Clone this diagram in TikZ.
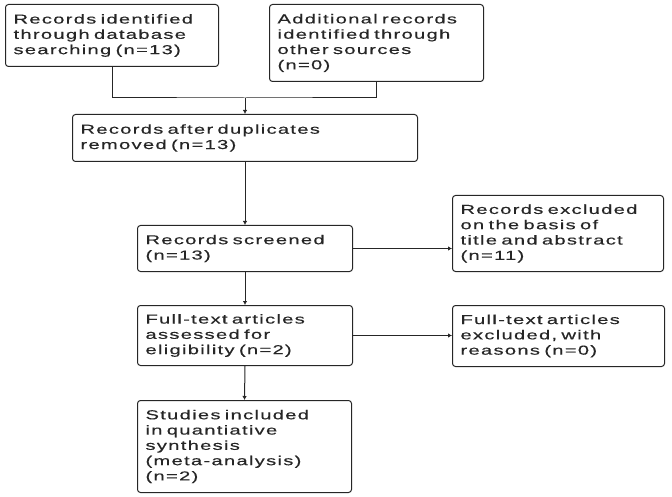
\documentclass[tikz,border=0pt]{standalone}
\usepackage{fontspec}
\usepackage{tikz}
\usetikzlibrary{arrows.meta}
\newfontfamily\flowfont[FakeStretch=1.55,LetterSpace=10,WordSpace=1.5,FakeBold=0.4]{Liberation Sans}

\tikzset{
	box/.style={draw=black!85, line width=1pt, rounded corners=3pt, anchor=north west,
		align=left, inner xsep=8pt, inner ysep=0pt, text=black!85,
		font=\flowfont\fontsize{13}{15.3}\selectfont},
	arr/.style={draw=black!85, line width=1pt, -{Latex[length=4pt,width=4.5pt]}}
}

\begin{document}
\begin{tikzpicture}[x=1pt,y=-1pt]

	\useasboundingbox (0,0) rectangle (672,497);

	\node[box, minimum width=213, minimum height=62, text width=197] (ident) at (5,4)
		{Records identified\\through database\\searching (n=13)};
	\node[box, minimum width=214, minimum height=77, text width=198] (other) at (269,4)
		{Additional records\\identified through\\other sources\\(n=0)};
	\node[box, minimum width=345, minimum height=47, text width=329] (dedup) at (72,114)
		{Records after duplicates\\removed (n=13)};
	\node[box, minimum width=215, minimum height=46, text width=199] (screen) at (137,225)
		{Records screened\\(n=13)};
	\node[box, minimum width=211, minimum height=76, text width=195] (exclA) at (452,195)
		{Records excluded\\on the basis of\\title and abstract\\(n=11)};
	\node[box, minimum width=215, minimum height=60, text width=199] (full) at (137,305)
		{Full-text articles\\assessed for\\eligibility (n=2)};
	\node[box, minimum width=212, minimum height=61, text width=196] (exclB) at (452,305)
		{Full-text articles\\excluded, with\\reasons (n=0)};
	\node[box, minimum width=214, minimum height=92, text width=198] (incl) at (137,400)
		{Studies included\\in quantiative\\synthesis\\(meta-analysis)\\(n=2)};

	\coordinate (join) at (245,98);

	\draw[draw=black!85, line width=1pt] (ident.south) |- (join) -| (other.south);
	\draw[arr] (join) -- (dedup.north);
	\draw[arr] (dedup.south) -- (screen.north);
	\draw[arr] (screen.east) -- (exclA.west |- screen.east);
	\draw[arr] (screen.south) -- (full.north);
	\draw[arr] (full.east) -- (exclB.west |- full.east);
	\draw[arr] (full.south) -- (incl.north);

\end{tikzpicture}
\end{document}
